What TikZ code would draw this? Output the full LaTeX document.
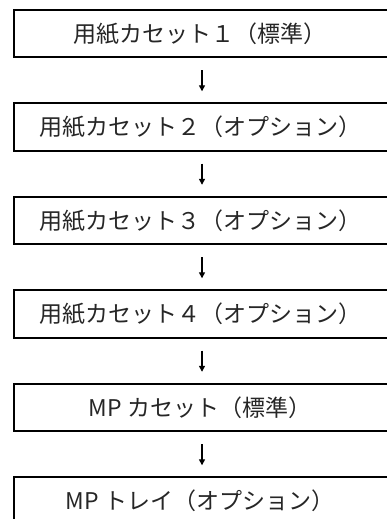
\documentclass[tikz,border=0pt]{standalone}
\usepackage{fontspec}
\newfontfamily\jp{Noto Sans CJK JP}
\usetikzlibrary{arrows.meta}
\begin{document}
\begin{tikzpicture}[x=1pt,y=1pt,
  box/.style={minimum width=372pt,minimum height=47pt,inner sep=0pt,
    font=\jp\fontsize{23}{26}\selectfont,text=black!85},
  edge/.style={line width=2pt,line cap=rect},
  arr/.style={line width=1.3pt,-{Triangle[length=6pt,width=6pt]}}]
\useasboundingbox (0,0) rectangle (387,519);
\foreach \i/\t in {1/用紙カセット１（標準）,2/用紙カセット２（オプション）,3/用紙カセット３（オプション）,4/用紙カセット４（オプション）,5/MP カセット（標準）,6/MP トレイ（オプション）}{
  \node[box] (b\i) at (200,{519-33.5-93.5*(\i-1)}) {\t};
  \draw[edge] ([xshift=10pt]b\i.north east) -- (b\i.north west) -- (b\i.south west) -- ([xshift=10pt]b\i.south east);
}
\foreach \i [evaluate=\i as \j using int(\i+1)] in {1,...,5}{
  \draw[arr] ([xshift=2pt,yshift=-13pt]b\i.south) -- ([xshift=2pt,yshift=12pt]b\j.north);
}
\end{tikzpicture}
\end{document}
